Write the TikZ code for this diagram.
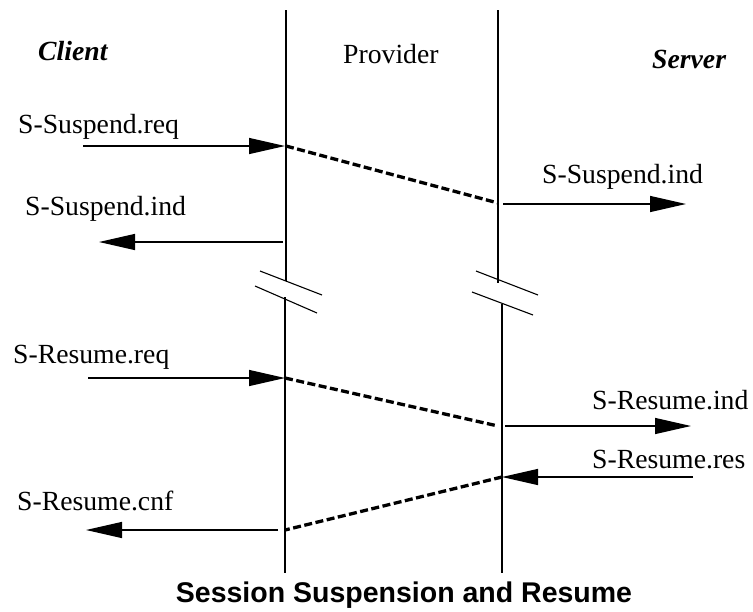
\documentclass[tikz,border=0pt]{standalone}
\usepackage{fontspec}
\setmainfont{Liberation Serif}
\newfontfamily\headfont{Liberation Sans}
\usetikzlibrary{arrows.meta}
\begin{document}
\begin{tikzpicture}[x=1pt,y=-1pt,
  lifeline/.style={line width=1.4pt},
  breakmark/.style={line width=1.1pt},
  msg/.style={line width=1.3pt,-{Triangle[length=36pt,width=16pt]}},
  relay/.style={line width=3.3pt,dash pattern=on 8pt off 3.5pt},
  lbl/.style={inner sep=0pt,anchor=base west,font=\fontsize{27.7}{30}\selectfont},
  role/.style={inner sep=0pt,anchor=base west,font=\fontsize{27.7}{30}\selectfont\bfseries\itshape}]
\useasboundingbox (0,0) rectangle (753,611);

% lifelines with break points
\coordinate (Ltop) at (286,10);  \coordinate (Lb1) at (286,281);
\coordinate (Lb2) at (285,297);  \coordinate (Lbot) at (285,573);
\coordinate (Rtop) at (498,10);  \coordinate (Rb1) at (498,283);
\coordinate (Rb2) at (502,304);  \coordinate (Rbot) at (502,573);
\draw[lifeline] (Ltop) -- (Lb1);
\draw[lifeline] (Lb2) -- (Lbot);
\draw[lifeline] (Rtop) -- (Rb1);
\draw[lifeline] (Rb2) -- (Rbot);

% break marks
\coordinate (ls1a) at (260,271); \coordinate (ls1b) at (322,295);
\coordinate (ls2a) at (255,286); \coordinate (ls2b) at (317,313);
\coordinate (rs1a) at (476,271); \coordinate (rs1b) at (538,295);
\coordinate (rs2a) at (472,292); \coordinate (rs2b) at (533,315);
\draw[breakmark] (ls1a) -- (ls1b);
\draw[breakmark] (ls2a) -- (ls2b);
\draw[breakmark] (rs1a) -- (rs1b);
\draw[breakmark] (rs2a) -- (rs2b);

% headings
\node[role] (client) at (38,60) {Client};
\node[lbl] (provider) at (343,63) {Provider};
\node[role] (server) at (652,68) {Server};

% suspend exchange
\coordinate (sreqA) at (83,146);  \coordinate (sreqB) at (285,146);
\coordinate (sP1) at (286,146);   \coordinate (sP2) at (498,203);
\coordinate (sindA) at (503,204); \coordinate (sindB) at (686,204);
\coordinate (slA) at (283,242);   \coordinate (slB) at (99,242);
\draw[msg] (sreqA) -- (sreqB);
\draw[relay] (sP1) -- (sP2);
\draw[msg] (sindA) -- (sindB);
\draw[msg] (slA) -- (slB);
\node[lbl] (tsreq) at (18,133) {S-Suspend.req};
\node[lbl] (tsindr) at (542,183) {S-Suspend.ind};
\node[lbl] (tsindl) at (25,215) {S-Suspend.ind};

% resume exchange
\coordinate (rreqA) at (88,378);  \coordinate (rreqB) at (285,378);
\coordinate (rP1) at (285,378);   \coordinate (rP2) at (498,426);
\coordinate (rindA) at (505,426); \coordinate (rindB) at (691,426);
\coordinate (rresA) at (693,477); \coordinate (rresB) at (502,477);
\coordinate (rP3) at (502,477);   \coordinate (rP4) at (285,530);
\coordinate (rcnfA) at (278,530); \coordinate (rcnfB) at (86,530);
\draw[msg] (rreqA) -- (rreqB);
\draw[relay] (rP1) -- (rP2);
\draw[msg] (rindA) -- (rindB);
\draw[msg] (rresA) -- (rresB);
\draw[relay] (rP3) -- (rP4);
\draw[msg] (rcnfA) -- (rcnfB);
\node[lbl] (trreq) at (13,363) {S-Resume.req};
\node[lbl] (trind) at (592,409) {S-Resume.ind};
\node[lbl] (trres) at (592,468) {S-Resume.res};
\node[lbl] (trcnf) at (17,510) {S-Resume.cnf};

% caption
\node[inner sep=0pt,anchor=base,font=\headfont\fontsize{28.5}{30}\selectfont\bfseries] (caption) at (404,602) {Session Suspension and Resume};
\end{tikzpicture}
\end{document}
